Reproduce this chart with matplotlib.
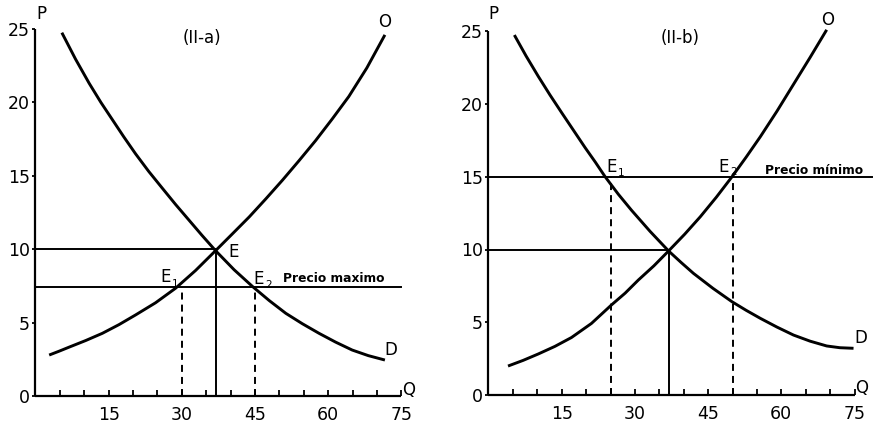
import matplotlib
matplotlib.use('Agg')
import matplotlib.pyplot as plt

# ---------------- data ----------------
# Panel II-a : price ceiling
qD_a = [5.4, 8.2, 11.0, 13.4, 15.8, 18.1, 20.5, 23.2, 26.0, 28.7, 31.4, 34.1, 36.9,
        40.7, 44.5, 47.9, 51.3, 54.7, 58.1, 61.5, 64.9, 68.2, 71.6]
pD_a = [24.75, 22.95, 21.3, 20.0, 18.8, 17.65, 16.5, 15.3, 14.15, 13.05, 12.0, 10.95, 9.9,
        8.6, 7.45, 6.5, 5.63, 4.92, 4.27, 3.67, 3.13, 2.75, 2.45]
qO_a = [2.8, 4.9, 6.9, 10.3, 13.7, 17.1, 20.5, 24.6, 28.7, 32.8, 36.9, 40.3, 43.8,
        47.2, 50.6, 54.0, 57.4, 60.8, 64.2, 67.9, 71.6]
pO_a = [2.79, 3.06, 3.33, 3.78, 4.27, 4.86, 5.52, 6.35, 7.34, 8.55, 9.9, 11.03, 12.2,
        13.43, 14.7, 16.03, 17.4, 18.87, 20.4, 22.35, 24.6]
qE_a, pE_a = 37, 10
p_max = 7.4
q1_a, q2_a = 30, 45

# Panel II-b : price floor
qD_b = [5.3, 7.7, 10.2, 12.6, 15.0, 17.4, 19.8, 21.9, 23.9, 26.6, 29.3, 33.1, 36.9,
        39.5, 42.0, 46.0, 49.9, 52.8, 55.7, 59.1, 62.5, 65.9, 69.3, 72.0, 74.8]
pD_b = [24.74, 23.3, 21.9, 20.62, 19.4, 18.2, 17.0, 16.0, 15.0, 13.8, 12.7, 11.25, 9.9,
        9.1, 8.36, 7.33, 6.41, 5.82, 5.27, 4.67, 4.12, 3.7, 3.37, 3.25, 3.21]
qO_b = [4.0, 7.1, 10.2, 13.6, 17.0, 21.1, 25.2, 28.0, 30.7, 33.9, 36.9, 40.2, 43.4,
        46.7, 49.9, 52.8, 55.7, 59.1, 62.5, 65.9, 69.3]
pO_b = [1.99, 2.38, 2.82, 3.34, 3.95, 4.92, 6.19, 7.0, 7.9, 8.88, 9.9, 11.05, 12.25,
        13.6, 15.0, 16.35, 17.75, 19.5, 21.35, 23.2, 25.1]
qE_b, pE_b = 37, 10
p_min = 15
q1_b, q2_b = 25, 50

x_ticks = list(range(5, 76, 5))
x_labels = [str(v) if v % 15 == 0 else '' for v in x_ticks]
y_ticks = [0, 5, 10, 15, 20, 25]

# ---------------- figure ----------------
W, H = 879, 424
fig = plt.figure(figsize=(W / 100, H / 100), dpi=100)
plt.rcParams['font.family'] = ['DejaVu Sans']

def fx(x):
    return x / W

def fy(y):
    return 1 - y / H

TICK_FS = 12.5

def make_ax(x0, y0, sx, sy):
    ax = fig.add_axes([x0 / W, (H - y0) / H, 75 * sx / W, 25 * sy / H])
    ax.set_xlim(0, 75)
    ax.set_ylim(0, 25)
    for s in ['top', 'right']:
        ax.spines[s].set_visible(False)
    for s in ['left', 'bottom']:
        ax.spines[s].set_linewidth(1.6)
        ax.spines[s].set_capstyle('butt')
    ax.set_xticks(x_ticks)
    ax.set_xticklabels(x_labels)
    ax.set_yticks(y_ticks)
    ax.set_yticklabels([str(v) for v in y_ticks])
    ax.tick_params(axis='x', direction='in', length=4, width=1.3, pad=7, labelsize=TICK_FS)
    ax.tick_params(axis='y', direction='out', length=2, width=1.3, pad=2, labelsize=TICK_FS)
    ax.patch.set_alpha(0)
    return ax

CURVE_LW = 2.1
LINE_LW = 1.4
DASH = (0, (3.6, 2.6))

def panel(ax, qD, pD, qO, pO, qE, pE, pline, q1, q2, line_end):
    ax.plot(qD, pD, color='black', lw=CURVE_LW, clip_on=False,
            solid_capstyle='butt', solid_joinstyle='round')
    ax.plot(qO, pO, color='black', lw=CURVE_LW, clip_on=False,
            solid_capstyle='butt', solid_joinstyle='round')
    ax.plot([0, qE], [pE, pE], color='black', lw=LINE_LW)
    ax.plot([qE, qE], [0, pE], color='black', lw=LINE_LW)
    ax.plot([0, line_end], [pline, pline], color='black', lw=LINE_LW, clip_on=False)
    for q in (q1, q2):
        ax.plot([q, q], [0, pline], color='black', lw=LINE_LW, linestyle=DASH)

ax1 = make_ax(35.5, 396, 4.88, 14.68)
panel(ax1, qD_a, pD_a, qO_a, pO_a, qE_a, pE_a, p_max, q1_a, q2_a, 74.8)

ax2 = make_ax(488.5, 395, 4.88, 14.55)
panel(ax2, qD_b, pD_b, qO_b, pO_b, qE_b, pE_b, p_min, q1_b, q2_b, 78.6)

FS = 12
def t(x, y, s, fs=FS, **kw):
    kw.setdefault('ha', 'center')
    kw.setdefault('va', 'center')
    fig.text(fx(x), fy(y), s, fontsize=fs, color='black', **kw)

# panel a labels
t(41, 14, 'P')
t(409, 390, 'Q')
t(385, 22, 'O')
t(391, 350, 'D')
t(202, 38, '(II-a)')
t(234, 252, 'E')
t(166, 277, 'E')
t(175, 284, '1', fs=7.5)
t(259, 279, 'E')
t(269, 285, '2', fs=7.5)
t(283, 278, 'Precio maximo', fs=8.8, ha='left', fontweight='bold')

# panel b labels
t(493, 14, 'P')
t(862, 388, 'Q')
t(828, 20, 'O')
t(861, 338, 'D')
t(680, 38, '(II-b)')
t(612, 167, 'E')
t(621, 173, '1', fs=7.5)
t(724, 167, 'E')
t(734, 172, '2', fs=7.5)
t(765, 171, 'Precio mínimo', fs=8.8, ha='left', fontweight='bold')

fig.savefig('out.png', dpi=100)
